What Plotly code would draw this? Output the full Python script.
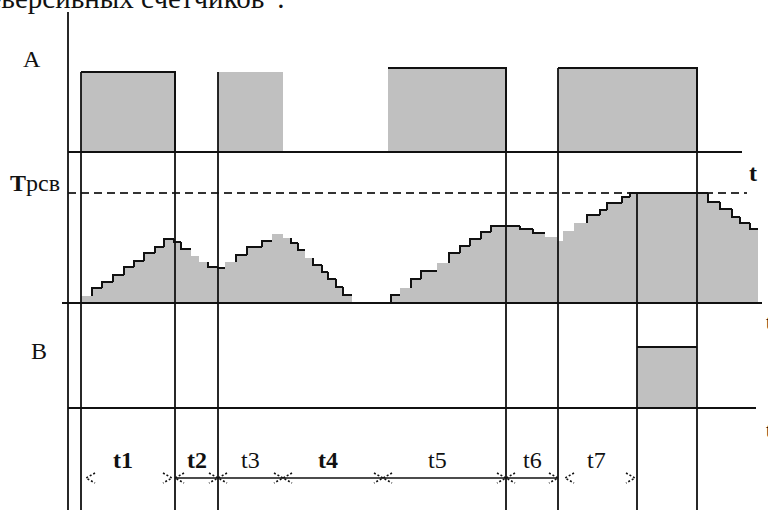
import plotly.graph_objects as go

W, H = 768, 510

# ---------------- data (time in drawing units along the time axis) ----------------
# Signal A pulses
a_start = [81, 218, 388, 558]
a_end = [175, 283, 506, 697]
a_amp = [80, 80, 84, 84]
a_outlined = [True, False, True, True]

# Counter (staircase) : step start times, level after the step, outlined step?
cnt_t = [81, 92, 102, 113, 124, 134, 144, 155, 164, 174, 181, 191, 199, 208,
         218, 225, 236, 247, 262, 272, 283, 291, 298, 305, 313, 322, 328, 336, 343, 352,
         391, 400, 411, 421, 437, 449, 460, 470, 481, 491, 520, 533, 545, 557,
         563, 574, 587, 600, 607, 622, 630, 708, 720, 732, 740, 750]
cnt_level = [7, 15, 21, 28, 36, 42, 50, 56, 64, 61, 54, 47, 41, 36,
             35, 41, 48, 56, 62, 69, 65, 60, 53, 45, 38, 31, 24, 16, 8, 0,
             8, 15, 24, 32, 40, 50, 57, 64, 71, 77, 74, 70, 66, 62,
             72, 80, 88, 93, 100, 106, 110, 101, 94, 86, 80, 74]
cnt_outlined = [False, True, True, True, True, True, True, True, True, True, True, False, False, True,
                True, False, True, True, True, False, False, True, True, False, True, True, True, True, True, False,
                True, False, True, True, False, True, True, True, True, True, True, True, False, False,
                False, False, True, True, True, True, True, True, True, True, True, True]
cnt_end = 758
t_rsv = 110          # threshold level "Tрсв"

# Signal B pulse
b_start = [637]
b_end = [697]
b_amp = [61]

# event marker times (vertical lines)
marker_t = [81, 175, 218, 506, 558, 637, 697]

# time intervals
int_labels = ["t1", "t2", "t3", "t4", "t5", "t6", "t7"]
int_start = [86, 175, 218, 283, 383, 506, 565]
int_end = [172, 218, 283, 383, 506, 558, 635]
int_line = [False, True, True, True, True, True, False]
int_label_x = [123, 197, 250, 328, 437, 532, 596]
int_bold = [True, True, False, True, False, False, False]

# ---------------- layout constants ----------------
base_A, base_C, base_B = 152, 303, 408
axis_x, axis_top = 68, 12
arrow_y, label_y = 478, 460
GRAY = "#c0c0c0"
BLK = "#111111"
FONT = "Liberation Serif"

fig = go.Figure()


def line(xs, ys, width=2, color=BLK, dash=None):
    fig.add_trace(go.Scatter(x=xs, y=ys, mode="lines", hoverinfo="skip",
                             line=dict(color=color, width=width, dash=dash)))


def poly(xs, ys):
    fig.add_trace(go.Scatter(x=xs, y=ys, mode="lines", fill="toself", fillcolor=GRAY,
                             hoverinfo="skip", line=dict(width=0, color=GRAY)))


# threshold dashed line
thr_y = base_C - t_rsv
line([axis_x, 747], [thr_y, thr_y], width=2.2, color="#333333", dash="8px,5px")

# A pulses
for s, e, a, o in zip(a_start, a_end, a_amp, a_outlined):
    top = base_A - a
    poly([s, s, e, e, s], [base_A, top, top, base_A, base_A])
    if o:
        line([s, e, e], [top, top, base_A])

# B pulse
for s, e, a in zip(b_start, b_end, b_amp):
    top = base_B - a
    poly([s, s, e, e, s], [base_B, top, top, base_B, base_B])
    line([s, e], [top, top])

# Counter staircase fill
px, py = [cnt_t[0]], [base_C]
ends = cnt_t[1:] + [cnt_end]
for s, e, lv in zip(cnt_t, ends, cnt_level):
    px += [s, e]
    py += [base_C - lv, base_C - lv]
px += [cnt_end, cnt_t[0]]
py += [base_C, base_C]
poly(px, py)

# Counter outline
ox, oy = [], []
prev = 0
for s, e, lv, o in zip(cnt_t, ends, cnt_level, cnt_outlined):
    if o and lv > 0:
        ox += [s, s, e, None]
        oy += [base_C - prev, base_C - lv, base_C - lv, None]
    prev = lv
line(ox, oy, width=2)

# baselines
line([axis_x, 742], [base_A, base_A], width=1.8)
line([62, 762], [base_C, base_C], width=1.8)
line([axis_x, 756], [base_B, base_B], width=1.8)

# axis
line([axis_x, axis_x], [axis_top, H], width=1.8)

# marker verticals
for t in marker_t:
    if t in a_start:
        top = base_A - a_amp[a_start.index(t)]
    elif t in a_end:
        top = base_A - a_amp[a_end.index(t)]
    else:
        top = thr_y
    line([t, t], [top, H], width=1.8)

# interval arrows (dotted heads)
for s, e, has_line in zip(int_start, int_end, int_line):
    if has_line:
        line([s, e], [arrow_y, arrow_y], width=1.5)
    line([s + 9, s, s + 9], [arrow_y - 5, arrow_y, arrow_y + 5], width=1.6, dash="2px,2px")
    line([e - 9, e, e - 9], [arrow_y - 5, arrow_y, arrow_y + 5], width=1.6, dash="2px,2px")

ann = []
for lab, x, b in zip(int_labels, int_label_x, int_bold):
    ann.append(dict(x=x, y=label_y, text=f"<b>{lab}</b>" if b else lab, showarrow=False,
                    font=dict(family=FONT, size=24, color=BLK), xanchor="center", yanchor="middle"))

ann += [
    dict(x=32, y=59, text="A", showarrow=False, font=dict(family=FONT, size=24, color=BLK)),
    dict(x=35, y=183, text="<b>T</b>рсв", showarrow=False, font=dict(family=FONT, size=24, color=BLK)),
    dict(x=39, y=351, text="B", showarrow=False, font=dict(family=FONT, size=24, color=BLK)),
    dict(x=753, y=173, text="<b>t</b>", showarrow=False, font=dict(family=FONT, size=24, color=BLK)),
    dict(x=764, y=322, text="t", showarrow=False, xanchor="left", font=dict(family=FONT, size=20, color=BLK)),
    dict(x=764, y=430, text="t", showarrow=False, xanchor="left", font=dict(family=FONT, size=20, color=BLK)),
    dict(x=287, y=16, text="реверсивных счетчиков”.", showarrow=False, xanchor="right", yanchor="bottom",
         font=dict(family=FONT, size=29, color=BLK)),
]

fig.update_layout(
    width=W, height=H, margin=dict(l=0, r=0, t=0, b=0),
    paper_bgcolor="white", plot_bgcolor="white", showlegend=False,
    xaxis=dict(range=[0, W], visible=False, fixedrange=True),
    yaxis=dict(range=[H, 0], visible=False, fixedrange=True),
    annotations=ann,
)

fig.write_html("out.html", config={"displayModeBar": False, "staticPlot": True},
               post_script="document.body.style.margin='0px';document.body.style.overflow='hidden';")
